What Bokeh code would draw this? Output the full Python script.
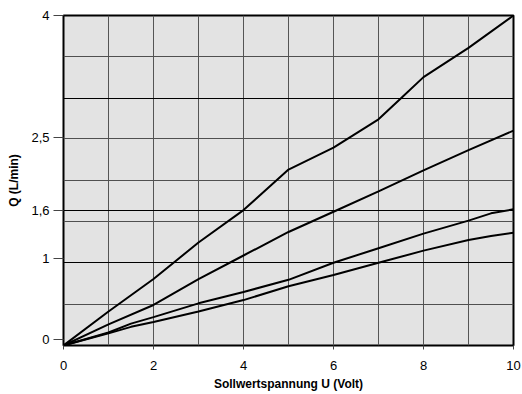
from bokeh.plotting import figure
from bokeh.models import FixedTicker, Grid, Range1d
from bokeh.embed import file_html
from bokeh.resources import INLINE

# ---- data ----
u_a = [0, 1, 2, 3, 4, 5, 6, 7, 7.5, 8, 9, 10]
q_1 = [-0.07, 0.35, 0.75, 1.2, 1.6, 2.1, 2.37, 2.72, 2.98, 3.24, 3.6, 4.0]

u_b = [0, 1, 2, 3, 4, 5, 6, 7, 8, 9, 10]
q_2 = [-0.07, 0.19, 0.43, 0.75, 1.04, 1.33, 1.58, 1.83, 2.09, 2.34, 2.58]

u_c = [0, 1, 1.5, 2, 3, 4, 5, 6, 7, 8, 9, 9.5, 10]
q_3 = [-0.07, 0.09, 0.2, 0.28, 0.45, 0.59, 0.74, 0.95, 1.13, 1.31, 1.47, 1.56, 1.61]
q_4 = [-0.07, 0.08, 0.16, 0.22, 0.35, 0.49, 0.66, 0.8, 0.95, 1.1, 1.23, 1.28, 1.32]

x_ticks = [0, 2, 4, 6, 8, 10]
y_ticks = [0, 1, 1.6, 2.5, 4]
y_tick_labels = ["0", "1", "1,6", "2,5", "4"]
x_grid = [1, 2, 3, 4, 5, 6, 7, 8, 9]
y_grid_light = [0.44, 1.46, 1.97, 2.48, 3.49]
y_grid_dark = [0.95, 1.6, 2.98]

FONT = "Liberation Sans"

p = figure(width=521, height=394, output_backend="svg", toolbar_location=None,
           x_range=Range1d(0, 10), y_range=Range1d(-0.07, 4.0),
           min_border_left=63, min_border_right=8, min_border_top=15,
           min_border_bottom=49)

p.background_fill_color = "#e3e3e3"
p.border_fill_color = "white"
p.outline_line_color = "black"
p.outline_line_width = 2

# grids
p.xgrid.ticker = FixedTicker(ticks=x_grid)
p.xgrid.grid_line_color = "#555555"
p.xgrid.grid_line_width = 1
p.ygrid.ticker = FixedTicker(ticks=y_grid_light)
p.ygrid.grid_line_color = "#505050"
p.ygrid.grid_line_width = 1
dark = Grid(dimension=1, ticker=FixedTicker(ticks=y_grid_dark),
            grid_line_color="black", grid_line_width=1)
p.add_layout(dark)

# axes
p.xaxis.ticker = FixedTicker(ticks=x_ticks)
p.yaxis.ticker = FixedTicker(ticks=y_ticks)
p.yaxis.major_label_overrides = {t: s for t, s in zip(y_ticks, y_tick_labels)}
for ax in (p.xaxis[0], p.yaxis[0]):
    ax.axis_line_color = None
    ax.minor_tick_line_color = None
    ax.major_tick_in = 0
    ax.major_tick_line_color = "#444444"
    ax.major_label_text_font = FONT
    ax.major_label_text_font_size = "13px"
    ax.major_label_text_color = "black"
    ax.axis_label_text_font = FONT
    ax.axis_label_text_font_size = "12px"
    ax.axis_label_text_font_style = "bold"
    ax.axis_label_text_color = "black"

p.xaxis.major_tick_out = 4
p.xaxis.major_label_standoff = 11
p.xaxis.axis_label = "Sollwertspannung U (Volt)"
p.xaxis.axis_label_standoff = 4

p.yaxis.major_tick_out = 10
p.yaxis.major_label_standoff = 4
p.yaxis.axis_label = "Q (L/min)"
p.yaxis.axis_label_standoff = 7

for xs, ys in ((u_a, q_1), (u_b, q_2), (u_c, q_3), (u_c, q_4)):
    p.line(xs, ys, line_color="black", line_width=2)

open("out.html", "w").write(file_html(p, INLINE))
